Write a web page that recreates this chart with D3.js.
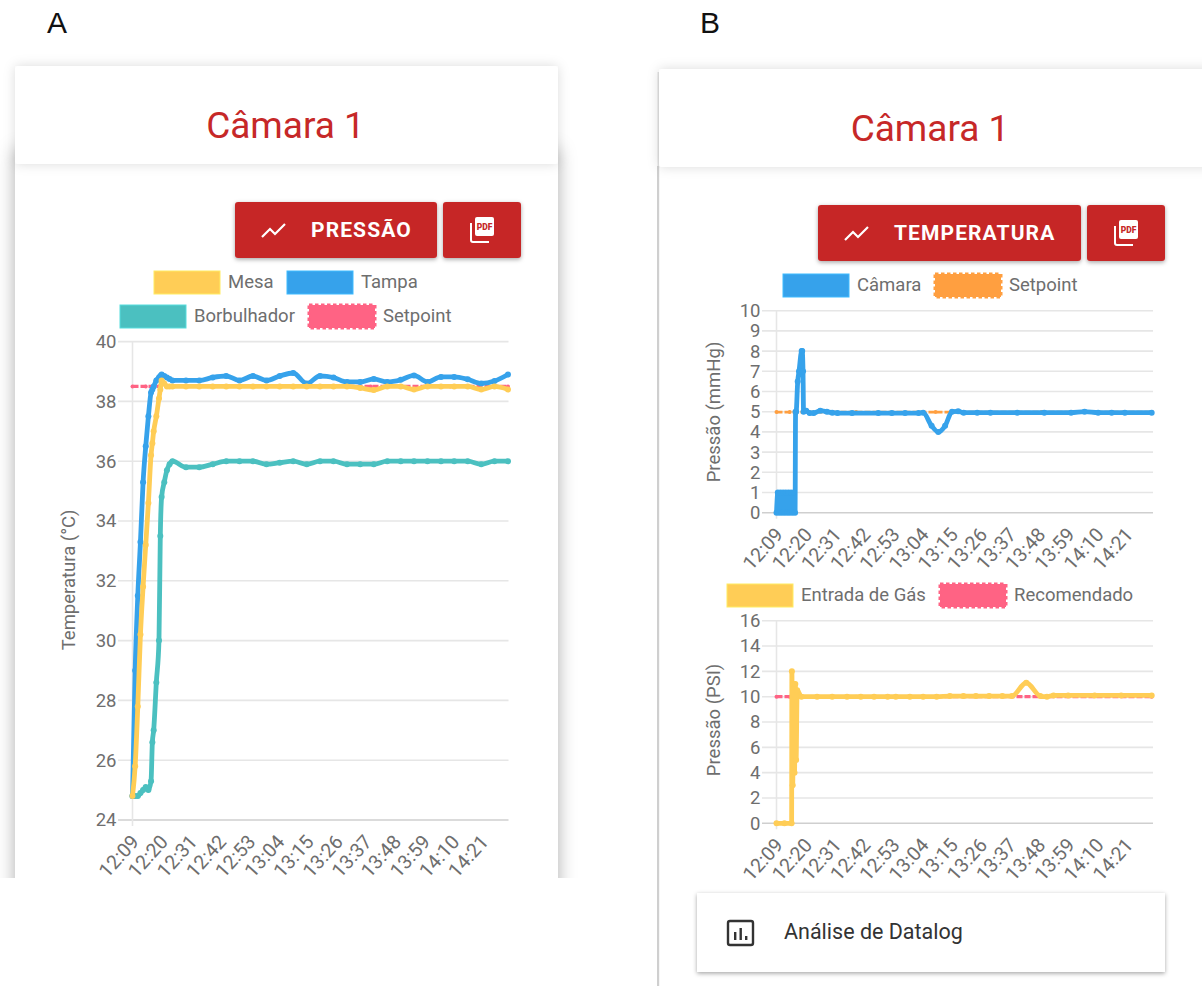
<!DOCTYPE html>
<html>
<head>
<meta charset="utf-8">
<script src="https://cdnjs.cloudflare.com/ajax/libs/d3/7.8.5/d3.min.js"></script>
<style>
html,body{margin:0;padding:0;background:#fff;overflow:hidden}
svg{display:block}
text{font-family:Roboto,sans-serif}
.grid line{stroke:#e6e6e6;stroke-width:1.6}
.axis text{fill:#6e6e6e;font-size:18.5px}
</style>
</head>
<body>
<div id="chart"></div>
<script>
// x labels shared by the three charts, 11 minutes apart
const tickLabels = ["12:09","12:20","12:31","12:42","12:53","13:04","13:15","13:26","13:37","13:48","13:59","14:10","14:21"];
const tickMinutes = [0,11,22,33,44,55,66,77,88,99,110,121,132];

// panel A, temperature
const tempMinutes = [0,1,2,3,4,5,6,7,7.5,8,9,10,10.5,11,12,13,14,
  15.1,20.2,25.2,30.3,35.4,40.4,45.5,50.6,55.6,60.7,65.8,70.8,75.9,81,86,91.1,96.2,101.3,106.3,111.4,116.5,121.5,126.6,131.7,136.7,141.8];
const mesa = [24.8,25.8,27.8,30.2,31.8,33.2,34.6,36.2,36.6,37,37.5,38.1,38.4,38.7,38.6,38.5,38.5,
  38.5,38.5,38.5,38.5,38.5,38.5,38.5,38.5,38.5,38.5,38.5,38.5,38.5,38.5,38.45,38.38,38.5,38.5,38.4,38.5,38.5,38.5,38.5,38.4,38.5,38.4];
const tampa = [24.8,29,31.5,33.3,35.3,36.5,37.5,38.3,38.4,38.5,38.7,38.8,38.85,38.9,38.85,38.8,38.75,
  38.7,38.7,38.7,38.8,38.85,38.7,38.85,38.7,38.85,38.95,38.6,38.85,38.8,38.65,38.65,38.75,38.65,38.72,38.87,38.65,38.82,38.82,38.74,38.6,38.68,38.9];
const borbulhador = [24.8,24.8,24.8,24.9,25,25.1,25,25.3,26.6,27,28.6,30,33.5,34.8,35.3,35.7,35.9,
  36,35.8,35.8,35.9,36,36,36,35.9,35.95,36,35.9,36,36,35.9,35.9,35.9,36,36,36,36,36,36,36,35.9,36,36];
const setpointTempMinutes = [0,5,10,15,30,60,90,120,141.8];
const setpointTemp = [38.5,38.5,38.5,38.5,38.5,38.5,38.5,38.5,38.5];

// panel B top, chamber pressure
const camaraMinutes = [0,0.5,1,1.5,2,2.5,3,3.5,4,4.5,5,5.5,6,6.5,7,7.2,7.4,8,8.5,9.5,9.7,10,10.2,11.2,12.5,14,16.5,19,21,23,28.5,38.4,43.5,48.5,53.6,55.3,58.5,61,63.6,66.2,68.5,70.6,75.7,80.7,90.8,101,111.1,116.2,121.3,126.4,131.4,141.5];
const camara = [0,1,0,1,0,1,0,1,0,1,0,1,0,1,0,5,5,6.5,7,8,8,7,5,5.05,4.93,4.93,5.05,5,4.95,4.93,4.93,4.93,4.93,4.93,4.93,4.95,4.3,4,4.3,5,5.02,4.95,4.95,4.95,4.95,4.95,4.95,5,4.95,4.95,4.95,4.95];
const setpointPressureMinutes = [0,5,10,30,60,100,141.5];
const setpointPressure = [4.98,4.98,4.98,4.98,4.98,4.98,4.98];

// panel B bottom, gas inlet
const gasMinutes = [0,3,5.7,5.8,6.1,6.5,6.8,7.1,7.4,7.8,9.4,15.3,21,26.6,31.8,36.8,41.9,45,50.3,55.3,60.4,65.4,70.5,75.2,80.2,85.2,88.8,94.2,99.5,102,104.5,110,120,130,141.5];
const gas = [0,0,0,12,3,11,4,11,5,10.5,10,10,10,10,10,10,10,10,10,10,10,10.05,10.05,10.05,10.05,10.05,10.05,11.1,10.05,10,10.1,10.1,10.1,10.1,10.1];
const recomendadoMinutes = [0,5,10,30,60,100,141.5];
const recomendado = [10,10,10,10,10,10,10];

const tempTicks = [24,26,28,30,32,34,36,38,40];
const mmHgTicks = [0,1,2,3,4,5,6,7,8,9,10];
const psiTicks = [0,2,4,6,8,10,12,14,16];

const RED = "#c62828", YELLOW = "#ffcd56", BLUE = "#36a2eb", TEAL = "#4bc0c0", PINK = "#ff6384", ORANGE = "#ff9f40";

const svg = d3.select("#chart").append("svg").attr("width",1202).attr("height",986);
const defs = svg.append("defs");

function addShadow(id, dy, std, op){
  defs.append("filter").attr("id",id).attr("x","-15%").attr("y","-30%").attr("width","130%").attr("height","160%")
    .append("feDropShadow").attr("dx",0).attr("dy",dy).attr("stdDeviation",std).attr("flood-color","#000").attr("flood-opacity",op);
}
addShadow("cardShadow",0,9,0.32);
addShadow("headShadow",0,6,0.14);
addShadow("btnShadow",1.5,2,0.35);

defs.append("clipPath").attr("id","clipA").append("rect").attr("x",0).attr("y",0).attr("width",640).attr("height",878);

// card A, cut off at the bottom like the screenshot
let cardA = svg.append("g").attr("clip-path","url(#clipA)");
cardA.append("rect").attr("x",15).attr("y",150).attr("width",543).attr("height",780).attr("fill","#fff").attr("filter","url(#cardShadow)");
cardA.append("rect").attr("x",15).attr("y",66).attr("width",543).attr("height",98).attr("rx",3).attr("fill","#fff").attr("filter","url(#headShadow)");

// card B, runs off the right side
svg.append("rect").attr("x",657.5).attr("y",72).attr("width",1.6).attr("height",96).attr("fill","#e2e2e2");
svg.append("rect").attr("x",657).attr("y",166).attr("width",2.2).attr("height",820).attr("fill","#cfcfcf");
svg.append("rect").attr("x",659).attr("y",69).attr("width",560).attr("height",98).attr("rx",3).attr("fill","#fff").attr("filter","url(#headShadow)");

svg.append("text").attr("x",47).attr("y",33).text("A").style("font-family","'Liberation Sans'").style("font-size","30px").attr("fill","#111");
svg.append("text").attr("x",700).attr("y",33).text("B").style("font-family","'Liberation Sans'").style("font-size","30px").attr("fill","#111");

function title(cx, y){
  svg.append("text").attr("x",cx).attr("y",y).attr("text-anchor","middle").attr("fill",RED).style("font-size","37px").text("Câmara 1");
}
title(285.5,138);
title(930,141);

function button(x, y, w, label, tx){
  let g = svg.append("g");
  g.append("rect").attr("x",x).attr("y",y).attr("width",w).attr("height",56).attr("rx",3).attr("fill",RED).attr("filter","url(#btnShadow)");
  // trending icon
  g.append("path").attr("transform","translate("+(x+27)+","+(y+20)+")")
    .attr("d","M0 15 L8 7 L13 12 L23 2").attr("fill","none").attr("stroke","#fff").attr("stroke-width",2.2);
  g.append("text").attr("x",tx).attr("y",y+35).attr("fill","#fff").style("font-size","21px").style("font-weight",700).style("letter-spacing","1.1px").text(label);
}
function pdfButton(x, y){
  let g = svg.append("g");
  g.append("rect").attr("x",x).attr("y",y).attr("width",78).attr("height",56).attr("rx",3).attr("fill",RED).attr("filter","url(#btnShadow)");
  g.append("path").attr("transform","translate("+(x+28)+","+(y+17)+")")
    .attr("d","M0 4 L0 21 Q0 23 2 23 L18 23").attr("fill","none").attr("stroke","#fff").attr("stroke-width",2);
  g.append("rect").attr("x",x+32).attr("y",y+15).attr("width",19).attr("height",19).attr("rx",2).attr("fill","#fff");
  g.append("text").attr("x",x+41.5).attr("y",y+28).attr("text-anchor","middle").attr("fill",RED).style("font-size","8.5px").style("font-weight",900).text("PDF");
}
button(235,202,202,"PRESSÃO",311);
pdfButton(443,202);
button(818,205,263,"TEMPERATURA",894);
pdfButton(1087,205);

// legend box, dashed ones get the notched edge
function legendItem(x, y, color, label, dashed){
  let r = svg.append("rect").attr("x",x).attr("y",y).attr("width",66).attr("height",23).attr("fill",color);
  if(dashed){
    r.attr("stroke",color).attr("stroke-width",3).attr("stroke-dasharray","3.5,2.5");
  }else{
    r.attr("stroke",d3.color(color).brighter(0.4)).attr("stroke-width",1);
  }
  svg.append("text").attr("x",x+74).attr("y",y+17).attr("fill","#6e6e6e").style("font-size","18.5px").text(label);
}
legendItem(154,271,YELLOW,"Mesa",false);
legendItem(287,271,BLUE,"Tampa",false);
legendItem(120,305,TEAL,"Borbulhador",false);
legendItem(309,305,PINK,"Setpoint",true);
legendItem(783,274,BLUE,"Câmara",false);
legendItem(935,274,ORANGE,"Setpoint",true);
legendItem(727,584,YELLOW,"Entrada de Gás",false);
legendItem(940,584,PINK,"Recomendado",true);

function drawChart(opt){
  let x = d3.scaleLinear().domain([0,opt.maxMinute]).range([opt.left,opt.right]);
  let y = d3.scaleLinear().domain(opt.yDomain).range([opt.bottom,opt.top]);
  let g = svg.append("g");

  // grid
  let grid = g.append("g").attr("class","grid");
  grid.selectAll(".h").data(opt.yTicks).enter().append("line")
    .attr("x1",opt.left-14.5).attr("x2",opt.right).attr("y1",d=>y(d)).attr("y2",d=>y(d))
    .style("stroke",d=>d==opt.yDomain[0]?"#cfcfcf":null);
  grid.append("line").attr("x1",opt.left).attr("x2",opt.left).attr("y1",opt.top).attr("y2",opt.bottom+6);

  let yAxis = d3.axisLeft(y).tickValues(opt.yTicks).tickSize(0).tickPadding(16);
  g.append("g").attr("class","axis").attr("transform","translate("+opt.left+",0)").call(yAxis).call(a=>a.select(".domain").remove());

  let xAxis = d3.axisBottom(x).tickValues(tickMinutes).tickSize(0).tickFormat((d,i)=>tickLabels[i]);
  g.append("g").attr("class","axis").attr("transform","translate(0,"+opt.bottom+")").call(xAxis)
    .call(a=>a.select(".domain").remove())
    .selectAll("text").attr("text-anchor","end").attr("x",0).attr("y",0).attr("dy","0.35em")
    .attr("transform","translate(2,18) rotate(-48)").style("font-size","19.5px");

  g.append("text").attr("transform","translate("+opt.titleX+","+opt.titleY+") rotate(-90)")
    .attr("text-anchor","middle").attr("fill","#6e6e6e").style("font-size","18.5px").text(opt.yTitle);

  let line = d3.line().x(d=>x(d[0])).y(d=>y(d[1])).curve(d3.curveMonotoneX);
  opt.series.forEach(function(s){
    let pts = s.minutes.map((m,i)=>[m,s.values[i]]);
    let sg = g.append("g");
    let p = sg.append("path").datum(pts).attr("d",line).attr("fill","none").attr("stroke",s.color)
      .attr("stroke-width",s.dashed?(s.width||3.2):4.8).attr("stroke-linejoin","round");
    if(s.dashed) p.attr("stroke-dasharray","6,2");
    sg.selectAll("circle").data(pts).enter().append("circle")
      .attr("cx",d=>x(d[0])).attr("cy",d=>y(d[1])).attr("r",s.dashed?2:3).attr("fill",s.color);
  });
}

// drawn back to front, first legend entry ends up on top
drawChart({left:132.5,right:508.5,top:341.6,bottom:820,maxMinute:142,yDomain:[24,40],yTicks:tempTicks,
  yTitle:"Temperatura (°C)",titleX:75,titleY:580,
  series:[
    {minutes:setpointTempMinutes,values:setpointTemp,color:PINK,dashed:true},
    {minutes:tempMinutes,values:borbulhador,color:TEAL},
    {minutes:tempMinutes,values:tampa,color:BLUE},
    {minutes:tempMinutes,values:mesa,color:YELLOW}
  ]});
drawChart({left:776.5,right:1153,top:310.7,bottom:512.7,maxMinute:142,yDomain:[0,10],yTicks:mmHgTicks,
  yTitle:"Pressão (mmHg)",titleX:720,titleY:412,
  series:[
    {minutes:setpointPressureMinutes,values:setpointPressure,color:ORANGE,dashed:true,width:2.6},
    {minutes:camaraMinutes,values:camara,color:BLUE}
  ]});
drawChart({left:776.5,right:1153,top:620.7,bottom:823.3,maxMinute:142,yDomain:[0,16],yTicks:psiTicks,
  yTitle:"Pressão (PSI)",titleX:720,titleY:720,
  series:[
    {minutes:recomendadoMinutes,values:recomendado,color:PINK,dashed:true},
    {minutes:gasMinutes,values:gas,color:YELLOW}
  ]});

// datalog card
svg.append("rect").attr("x",697).attr("y",893).attr("width",468).attr("height",79).attr("fill","#fff").attr("filter","url(#btnShadow)");
svg.append("rect").attr("x",728).attr("y",921).attr("width",25).attr("height",24).attr("rx",2).attr("fill","none").attr("stroke","#333").attr("stroke-width",2.4);
[[734,932,3],[739.5,928,7],[745,936,2.5]].forEach(function(b){
  svg.append("rect").attr("x",b[0]).attr("y",b[1]).attr("width",2.4).attr("height",940-b[1]).attr("fill","#333");
});
svg.append("text").attr("x",784).attr("y",939).attr("fill","#333").style("font-size","21.5px").text("Análise de Datalog");
</script>
</body>
</html>
